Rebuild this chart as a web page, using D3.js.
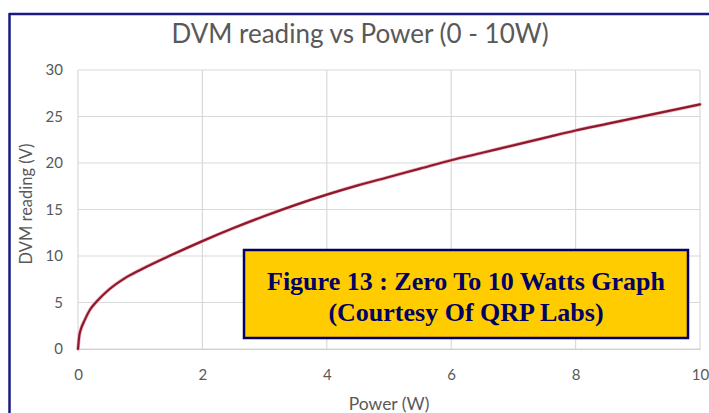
<!DOCTYPE html>
<html><head><meta charset="utf-8">
<script src="https://cdn.jsdelivr.net/npm/d3@7"></script>
<style>html,body{margin:0;padding:0;background:#fff;}svg{display:block;}</style>
</head><body>
<script>
const title = "DVM reading vs Power (0 - 10W)";
const xTitle = "Power (W)";
const yTitle = "DVM reading (V)";
const xTicks = [0, 2, 4, 6, 8, 10];
const yTicks = [0, 5, 10, 15, 20, 25, 30];
const power = [0, 0.02, 0.05, 0.1, 0.2, 0.3, 0.5, 0.75, 1, 1.5, 2, 2.5, 3, 3.5, 4, 4.5, 5, 5.5, 6, 6.5, 7, 7.5, 8, 8.5, 9, 9.5, 10];
const dvm   = [0, 1.4, 2.2, 3.0, 4.3, 5.1, 6.4, 7.6, 8.5, 10.1, 11.6, 13.0, 14.3, 15.5, 16.6, 17.6, 18.5, 19.4, 20.3, 21.1, 21.9, 22.7, 23.5, 24.2, 24.9, 25.6, 26.3];
const noteLines = ["Figure 13 : Zero To 10 Watts Graph", "(Courtesy Of QRP Labs)"];

const W = 709, H = 413;
const svg = d3.select("body").append("svg").attr("width", W).attr("height", H);
svg.append("rect").attr("width", W).attr("height", H).attr("fill", "#fff");

const x = d3.scaleLinear().domain([0, 10]).range([78, 700]);
const y = d3.scaleLinear().domain([0, 30]).range([349, 70]);

// gridlines
svg.append("g").selectAll("line").data(yTicks).join("line")
  .attr("x1", x(0)).attr("x2", x(10)).attr("y1", d => y(d)).attr("y2", d => y(d))
  .attr("stroke", "#d9d9d9").attr("stroke-width", 1.2);
svg.append("g").selectAll("line").data(xTicks).join("line")
  .attr("y1", y(0)).attr("y2", y(30)).attr("x1", d => x(d)).attr("x2", d => x(d))
  .attr("stroke", "#d9d9d9").attr("stroke-width", 1.2);

// axes (labels only)
const font = "Lato, 'Open Sans', sans-serif";
const xAxis = svg.append("g").attr("transform", `translate(0,${y(0)})`)
  .call(d3.axisBottom(x).tickValues(xTicks).tickSize(0).tickPadding(20));
xAxis.select(".domain").attr("stroke", "#d0d0d0");
xAxis.selectAll("text").attr("fill", "#595959").style("font-family", font).style("font-size", "15px");
const yAxis = svg.append("g").attr("transform", `translate(${x(0)},0)`)
  .call(d3.axisLeft(y).tickValues(yTicks).tickSize(0).tickPadding(15));
yAxis.select(".domain").remove();
yAxis.selectAll("text").attr("fill", "#595959").style("font-family", font).style("font-size", "15px");

// line
const line = d3.line().x((d, i) => x(power[i])).y(d => y(d)).curve(d3.curveMonotoneX);
svg.append("path").datum(dvm).attr("d", line).attr("fill", "none")
  .attr("stroke", "#f2b0bd").attr("stroke-width", 3.6).attr("stroke-linecap", "round");
svg.append("path").datum(dvm).attr("d", line).attr("fill", "none")
  .attr("stroke", "#8c1a2c").attr("stroke-width", 2.2).attr("stroke-linecap", "round");

// titles
svg.append("text").attr("x", 360).attr("y", 43).attr("text-anchor", "middle")
  .attr("fill", "#595959").style("font-family", font).style("font-size", "26px").text(title);
svg.append("text").attr("x", 389).attr("y", 410).attr("text-anchor", "middle")
  .attr("fill", "#595959").style("font-family", font).style("font-size", "17.5px").text(xTitle);
svg.append("text").attr("transform", "translate(32,204) rotate(-90)").attr("text-anchor", "middle")
  .attr("fill", "#595959").style("font-family", font).style("font-size", "16.5px").text(yTitle);

// frame
svg.append("line").attr("x1", 9).attr("x2", W).attr("y1", 14).attr("y2", 14).attr("stroke", "#1a1a80").attr("stroke-width", 2.5);
svg.append("line").attr("x1", 9.5).attr("x2", 9.5).attr("y1", 13).attr("y2", H).attr("stroke", "#1a1a80").attr("stroke-width", 2.5);

// annotation box
svg.append("rect").attr("x", 244).attr("y", 250).attr("width", 444).attr("height", 88)
  .attr("fill", "#ffcc00").attr("stroke", "#000066").attr("stroke-width", 2.5);
svg.append("g").selectAll("text").data(noteLines).join("text")
  .attr("x", 466).attr("y", (d, i) => 290 + i * 31).attr("text-anchor", "middle")
  .attr("fill", "#000066").style("font-family", "'Liberation Serif', 'Times New Roman', serif")
  .style("font-weight", "bold").style("font-size", "26px").text(d => d);
</script>
</body></html>
